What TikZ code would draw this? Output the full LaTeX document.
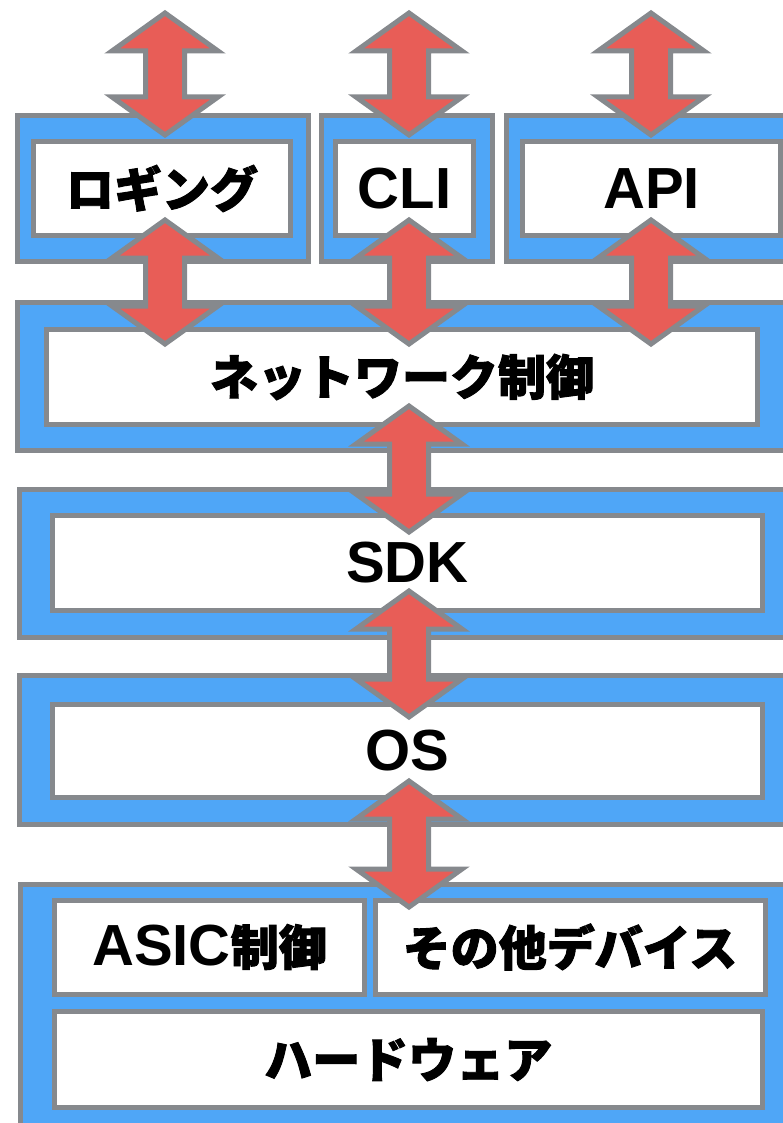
\documentclass[tikz,border=0pt]{standalone}
\usepackage{fontspec}
\usepackage{xcolor}
\usepackage{tikz}
\usetikzlibrary{calc}

\setmainfont{Liberation Sans}
\newfontfamily\jpfont[BoldFeatures={FakeBold=2}]{Noto Sans CJK JP}

\definecolor{layerblue}{HTML}{4FA6F7}
\definecolor{framegray}{HTML}{86898D}
\definecolor{arrowred}{HTML}{E85D57}

\newcommand{\jp}[1]{{\fontsize{48}{50}\selectfont\jpfont\bfseries #1}}

\begin{document}
\begin{tikzpicture}[x=1pt, y=-1pt,
  layer/.style={rectangle, draw=framegray, fill=layerblue, line width=5pt, anchor=north west, inner sep=0pt, outer sep=0pt},
  block/.style={rectangle, draw=framegray, fill=white, line width=5pt, anchor=north west, inner sep=0pt, outer sep=0pt, font=\fontsize{58}{60}\selectfont\bfseries},
  bigarrow/.style={draw=framegray, fill=arrowred, line width=5pt, line join=miter,
    to path={let \p1=(\tikztostart), \p2=(\tikztotarget) in
      (\x1,\y1) -- (\x1+53pt,\y1-38pt) -- (\x1+19.5pt,\y1-38pt) -- (\x1+19.5pt,\y2+38pt)
      -- (\x1+53pt,\y2+38pt) -- (\x1,\y2) -- (\x1-53pt,\y2+38pt) -- (\x1-19.5pt,\y2+38pt)
      -- (\x1-19.5pt,\y1-38pt) -- (\x1-53pt,\y1-38pt) -- cycle}}]

  \useasboundingbox (0,0) rectangle (783,1123);

  % outer layers
  \node[layer, minimum width=291pt, minimum height=146pt] (loglayer) at (17.5,115.5) {};
  \node[layer, minimum width=171pt, minimum height=146pt] (clilayer) at (321.5,115.5) {};
  \node[layer, minimum width=300pt, minimum height=146pt] (apilayer) at (506.5,115.5) {};
  \node[layer, minimum width=790pt, minimum height=148pt] (netlayer) at (17.5,302.5) {};
  \node[layer, minimum width=790pt, minimum height=148pt] (sdklayer) at (19.5,489.5) {};
  \node[layer, minimum width=790pt, minimum height=149pt] (oslayer) at (19.5,675.5) {};
  \node[layer, minimum width=790pt, minimum height=260pt] (hwlayer) at (20,884.5) {};

  % blocks
  \node[block, minimum width=257pt, minimum height=94pt] (logbox) at (33.5,141.5) {\jp{ロギング}};
  \node[block, minimum width=138pt, minimum height=94pt] (clibox) at (335.5,141.5) {CLI};
  \node[block, minimum width=258pt, minimum height=94pt] (apibox) at (522.5,141.5) {API};
  \node[block, minimum width=711pt, minimum height=95pt] (netbox) at (46.5,329.5) {\jp{ネットワーク制御}};
  \node[block, minimum width=710pt, minimum height=95pt] (sdkbox) at (52.5,515.5) {SDK};
  \node[block, minimum width=710pt, minimum height=93pt] (osbox) at (52.5,704.5) {OS};
  \node[block, minimum width=310pt, minimum height=94pt] (asicbox) at (54.5,900) {ASIC\jp{制御}};
  \node[block, minimum width=390pt, minimum height=94pt] (othbox) at (375,900) {\jp{その他デバイス}};
  \node[block, minimum width=707.5pt, minimum height=96pt] (hwbox) at (54.5,1011.5) {\jp{ハードウェア}};

  % free ends
  \coordinate (logtop) at (165,13);
  \coordinate (clitop) at (409,13);
  \coordinate (apitop) at (651,13);

  % arrows
  \draw[bigarrow] (logtop) to ([yshift=6.5pt]logbox.north);
  \draw[bigarrow] (clitop) to ([yshift=6.5pt]clibox.north);
  \draw[bigarrow] (apitop) to ([yshift=6.5pt]apibox.north);
  \draw[bigarrow] ([yshift=15.5pt]logtop |- logbox.south) to ([yshift=-14.5pt]netbox.north);
  \draw[bigarrow] ([yshift=15.5pt]clitop |- clibox.south) to ([yshift=-14.5pt]netbox.north);
  \draw[bigarrow] ([yshift=15.5pt]apitop |- apibox.south) to ([yshift=-14.5pt]netbox.north);
  \draw[bigarrow] ([yshift=18.5pt]clitop |- netbox.south) to ([yshift=-16.5pt]sdkbox.north);
  \draw[bigarrow] ([yshift=19.5pt]clitop |- sdkbox.south) to ([yshift=-12.5pt]osbox.north);
  \draw[bigarrow] ([yshift=16.5pt]clitop |- osbox.south) to ([yshift=-7pt]othbox.north);

\end{tikzpicture}
\end{document}
